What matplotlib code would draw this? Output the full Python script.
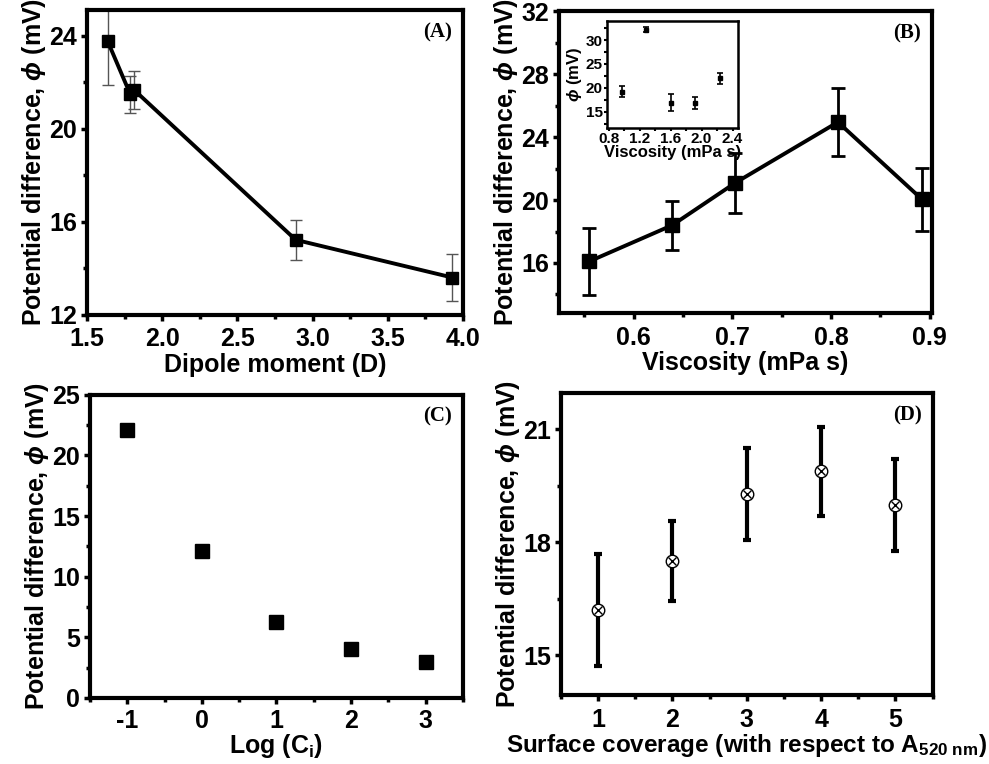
import numpy as np
import matplotlib
matplotlib.use('Agg')
import matplotlib.pyplot as plt
from matplotlib.ticker import MultipleLocator

plt.rcParams['font.family'] = ['Liberation Sans', 'DejaVu Sans']
plt.rcParams['font.weight'] = 'bold'
plt.rcParams['axes.unicode_minus'] = False
plt.rcParams['mathtext.fontset'] = 'custom'
plt.rcParams['mathtext.rm'] = 'Liberation Sans:bold'
plt.rcParams['mathtext.it'] = 'Liberation Sans:italic:bold'
plt.rcParams['mathtext.bf'] = 'Liberation Sans:bold'

# (A) dipole moment
dipole = [1.637, 1.788, 1.815, 2.888, 3.93]
phi_a = [23.76, 21.47, 21.65, 15.22, 13.6]
err_a = [1.88, 0.78, 0.82, 0.87, 1.0]

# (B) viscosity
visc = [0.555, 0.639, 0.703, 0.807, 0.892]
phi_b = [16.1, 18.4, 21.1, 24.96, 20.06]
err_b = [2.15, 1.55, 1.9, 2.15, 2.0]

# (B) inset
visc_in = [0.98, 1.29, 1.61, 1.92, 2.24]
phi_in = [19.2, 32.2, 16.9, 16.8, 22.0]
err_in = [1.2, 0.5, 1.8, 1.3, 1.1]

# (C) log concentration
logc = [-1, 0, 1, 2, 3]
phi_c = [22.13, 12.1, 6.28, 4.0, 2.98]

# (D) surface coverage
cover = [1, 2, 3, 4, 5]
phi_d = [16.2, 17.49, 19.28, 19.88, 18.99]
err_d = [1.48, 1.06, 1.23, 1.18, 1.22]

ylab = r'Potential difference, $\it{\phi}$ (mV)'


def style(ax, xmaj, xmin, ymaj, ymin, fs=18, lw=3.0):
    for s in ax.spines.values():
        s.set_linewidth(lw)
    ax.xaxis.set_major_locator(MultipleLocator(xmaj))
    ax.xaxis.set_minor_locator(MultipleLocator(xmin))
    ax.yaxis.set_major_locator(MultipleLocator(ymaj))
    ax.yaxis.set_minor_locator(MultipleLocator(ymin))
    ax.tick_params(which='major', direction='out', length=4, width=2.5, labelsize=fs, pad=3)
    ax.tick_params(which='minor', direction='out', length=3, width=2.5)
    ax.tick_params(axis='x', which='major', pad=5)
    for t in ax.get_xticklabels() + ax.get_yticklabels():
        t.set_fontweight('bold')


def tag(ax, s):
    ax.text(0.97, 0.96, s, transform=ax.transAxes, ha='right', va='top',
            fontsize=15, fontweight='bold', family='Liberation Serif')


fig = plt.figure(figsize=(9.89, 7.64), dpi=100)

# (A)
ax1 = fig.add_axes([0.088, 0.588, 0.380, 0.399])
ax1.errorbar(dipole, phi_a, yerr=err_a, fmt='none', ecolor='#555555',
             elinewidth=1.0, capsize=4, capthick=1.0, zorder=2)
ax1.plot(dipole, phi_a, '-s', color='black', lw=2.8, ms=9, zorder=3)
ax1.set_xlim(1.5, 4.0)
ax1.set_ylim(12, 25.1)
style(ax1, 0.5, 0.25, 4, 2)
ax1.set_xlabel('Dipole moment (D)', fontsize=18, fontweight='bold', labelpad=1)
ax1.set_ylabel(ylab, fontsize=18, fontweight='bold', labelpad=1)
tag(ax1, '(A)')

# (B)
ax2 = fig.add_axes([0.565, 0.590, 0.377, 0.395])
ax2.errorbar(visc, phi_b, yerr=err_b, fmt='none', ecolor='black',
             elinewidth=2.0, capsize=5, capthick=2.0, zorder=2)
ax2.plot(visc, phi_b, '-s', color='black', lw=2.8, ms=10, zorder=3)
ax2.set_xlim(0.524, 0.902)
ax2.set_ylim(12.8, 32)
style(ax2, 0.1, 0.05, 4, 2)
ax2.set_xlabel('Viscosity (mPa s)', fontsize=18, fontweight='bold', labelpad=1)
ax2.set_ylabel(ylab, fontsize=18, fontweight='bold', labelpad=1)
tag(ax2, '(B)')

# inset
axi = fig.add_axes([0.6137, 0.8325, 0.1325, 0.140])
axi.errorbar(visc_in, phi_in, yerr=err_in, fmt='s', color='black', ms=3.5,
             elinewidth=1.2, capsize=2, capthick=1.2)
axi.set_xlim(0.78, 2.47)
axi.set_ylim(11.6, 34)
style(axi, 0.4, 0.2, 5, 2.5, fs=11, lw=1.8)
axi.tick_params(which='both', length=2, width=1.5, pad=1)
axi.set_xlabel('Viscosity (mPa s)', fontsize=12, fontweight='bold', labelpad=-1)
axi.set_ylabel(r'$\it{\phi}$ (mV)', fontsize=12, fontweight='bold', labelpad=1)

# (C)
ax3 = fig.add_axes([0.091, 0.0864, 0.377, 0.397])
ax3.plot(logc, phi_c, 's', color='black', ms=10)
ax3.set_xlim(-1.5, 3.5)
ax3.set_ylim(0, 25)
style(ax3, 1, 0.5, 5, 2.5)
ax3.tick_params(axis='x', which='major', pad=4)
ax3.set_xlabel(r'Log (C$_\mathregular{i}$)', fontsize=18, fontweight='bold', labelpad=-1)
ax3.set_ylabel(ylab, fontsize=18, fontweight='bold', labelpad=1)
tag(ax3, '(C)')

# (D)
ax4 = fig.add_axes([0.567, 0.0903, 0.376, 0.395])
ax4.errorbar(cover, phi_d, yerr=err_d, fmt='none', ecolor='black',
             elinewidth=3.0, capsize=3, capthick=3.0, zorder=2)
ax4.plot(cover, phi_d, 'o', mfc='white', mec='black', mew=1.0, ms=9, zorder=3)
ax4.plot(cover, phi_d, 'x', color='black', mew=1.0, ms=6, zorder=4)
ax4.set_xlim(0.5, 5.5)
ax4.set_ylim(13.95, 21.95)
style(ax4, 1, 0.5, 3, 1.5)
ax4.set_xlabel(r'Surface coverage (with respect to A$_\mathregular{520\ nm}$)',
               fontsize=17.5, fontweight='bold', labelpad=0)
ax4.set_ylabel(ylab, fontsize=18, fontweight='bold', labelpad=1)
tag(ax4, '(D)')

fig.savefig('out.png', dpi=100)
